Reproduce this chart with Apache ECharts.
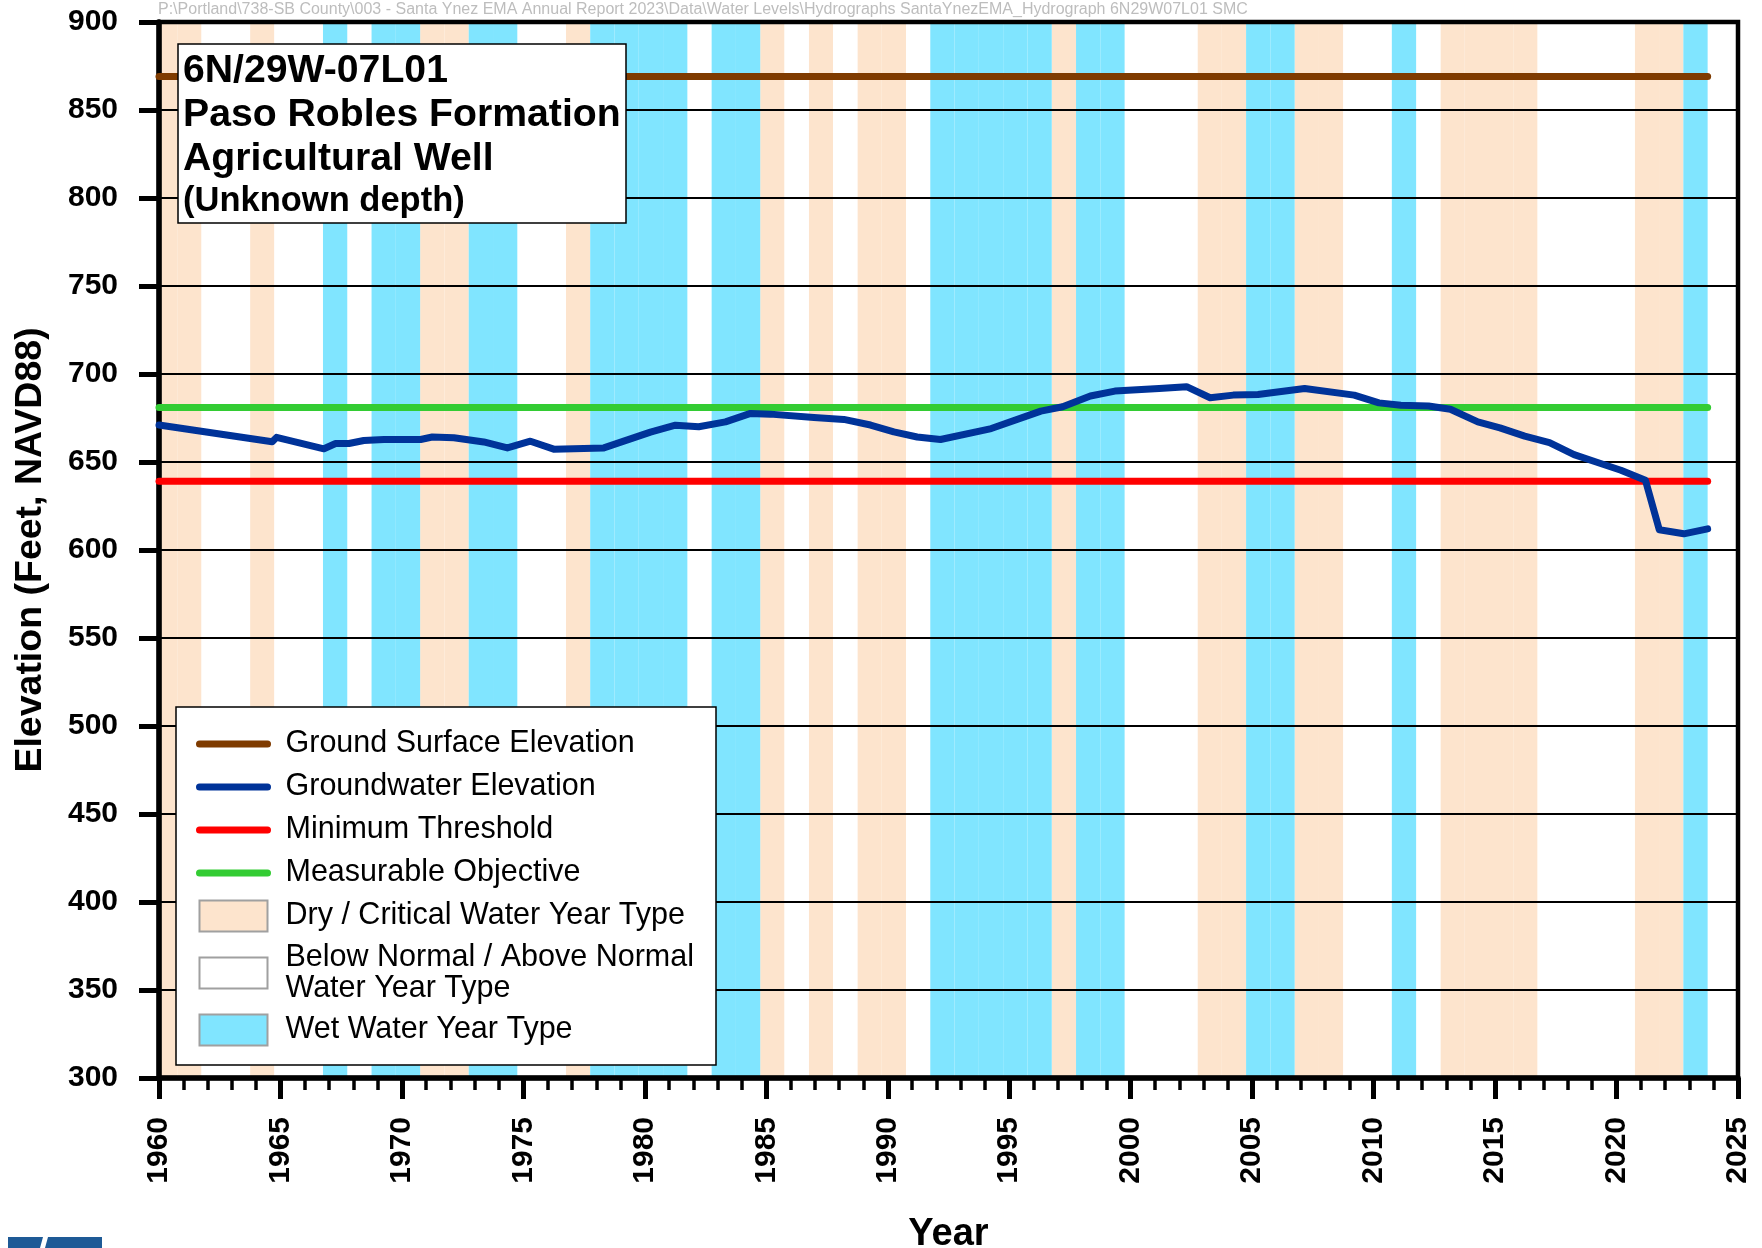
<!DOCTYPE html>
<html>
<head>
<meta charset="utf-8">
<title>Hydrograph 6N/29W-07L01</title>
<script src="https://cdn.jsdelivr.net/npm/echarts@6/dist/echarts.min.js"></script>
<style>
  html, body { margin: 0; padding: 0; background: #ffffff; }
  #chart { width: 1762px; height: 1248px; }
</style>
</head>
<body>
<div id="chart"></div>
<script>
// ---- Water year classification (water year N runs Oct N-1 .. Sep N) ----
const dryWaterYears = [1960, 1961, 1964, 1971, 1972, 1977, 1985, 1987, 1989, 1990, 1997,
  2003, 2004, 2007, 2008, 2013, 2014, 2015, 2016, 2021, 2022];
const normalWaterYears = [1962, 1963, 1965, 1966, 1968, 1975, 1976, 1982, 1986, 1988, 1991,
  2000, 2001, 2002, 2009, 2010, 2012, 2017, 2018, 2019, 2020];
const wetWaterYears = [1967, 1969, 1970, 1973, 1974, 1978, 1979, 1980, 1981, 1983, 1984,
  1992, 1993, 1994, 1995, 1996, 1998, 1999, 2005, 2006, 2011, 2023];

// ---- Groundwater elevation record (decimal year, feet NAVD88) ----
const gwYears = [1960.0, 1964.66, 1964.84, 1966.79, 1967.27, 1967.82, 1968.43, 1969.26, 1970.77,
  1971.25, 1972.14, 1973.37, 1974.34, 1975.29, 1976.25, 1978.31, 1980.23, 1981.26, 1982.22,
  1983.32, 1984.35, 1985.17, 1986.96, 1988.19, 1989.29, 1990.25, 1991.21, 1992.17, 1994.26,
  1996.3, 1997.2, 1998.34, 1999.35, 2001.17, 2002.3, 2003.27, 2004.22, 2005.24, 2007.16,
  2009.2, 2010.22, 2011.12, 2012.26, 2013.16, 2014.29, 2015.2, 2016.22, 2017.24, 2018.25,
  2019.16, 2020.18, 2021.19, 2021.76, 2022.77, 2023.75];
const gwElev = [671, 661.5, 664, 657.5, 660.5, 660.5, 662.2, 662.8, 662.8,
  664.2, 663.8, 661.4, 658, 661.8, 657.3, 658, 667, 670.9, 670,
  672.8, 677.6, 677.2, 675.3, 674.2, 671, 667.1, 664.2, 662.8, 669,
  678.9, 681.4, 687.5, 690.3, 691.8, 692.8, 686.5, 688, 688.4, 691.8,
  688, 683.6, 682.3, 681.8, 680, 672.8, 669.4, 664.7, 661, 654.2,
  650, 645.3, 639.6, 611.5, 609.2, 612];

// ---- Reference levels ----
const referenceSpan = [1960, 2023.75];
const groundSurfaceElev = 869;
const measurableObjective = 681;
const minimumThreshold = 639;

// ---- Axes ----
const X_MIN = 1960, X_MAX = 2025, X_STEP = 5;
const Y_MIN = 300, Y_MAX = 900, Y_STEP = 50;

const FONT = '"Liberation Sans", Arial, Helvetica, sans-serif';
const DRY_COLOR = '#FDE4CD';
const WET_COLOR = '#80E5FF';
const NORMAL_COLOR = '#FFFFFF';

const NAME_GSE = 'Ground Surface Elevation';
const NAME_GW = 'Groundwater Elevation';
const NAME_MT = 'Minimum Threshold';
const NAME_MO = 'Measurable Objective';
const NAME_DRY = 'Dry / Critical Water Year Type';
const NAME_BN = 'Below Normal / Above Normal\nWater Year Type';
const NAME_WET = 'Wet Water Year Type';

function waterYearSpans(years) {
  return years.map(y => [Math.max(X_MIN, y - 0.25), Math.min(X_MAX, y + 0.75)]);
}

function bandSeries(name, years, color) {
  return {
    type: 'custom',
    name: name,
    z: 1,
    silent: true,
    itemStyle: { color: color },
    encode: { x: [0, 1] },
    data: waterYearSpans(years),
    renderItem: function (params, api) {
      const p0 = api.coord([api.value(0), Y_MAX]);
      const p1 = api.coord([api.value(1), Y_MIN]);
      return {
        type: 'rect',
        shape: { x: p0[0], y: p0[1], width: p1[0] - p0[0], height: p1[1] - p0[1] },
        style: { fill: color }
      };
    }
  };
}

function levelSeries(name, value, color) {
  return {
    type: 'line',
    name: name,
    z: 3,
    symbol: 'none',
    silent: true,
    lineStyle: { color: color, width: 7, cap: 'round' },
    itemStyle: { color: color },
    data: referenceSpan.map(x => [x, value])
  };
}

// line entries in the legend show only the stroke, no marker
const lineLegendItem = name => ({ name: name, itemStyle: { opacity: 0 } });
const boxLegendItem = (name, extra) => Object.assign({
  name: name, icon: 'rect', itemStyle: { borderColor: '#A0A0A0', borderWidth: 2 }
}, extra || {});

const chart = echarts.init(document.getElementById('chart'), null, { renderer: 'canvas' });

chart.setOption({
  backgroundColor: '#ffffff',
  animation: false,
  textStyle: { fontFamily: FONT },
  grid: {
    left: 159, right: 24, top: 22, bottom: 170,
    containLabel: false,
    outerBoundsMode: 'none',
    show: true, z: 2,
    borderColor: '#000', borderWidth: 4.5,
    backgroundColor: 'transparent'
  },
  title: {
    left: 178, top: 44,
    text: '6N/29W-07L01\nPaso Robles Formation\nAgricultural Well',
    subtext: '(Unknown depth)',
    itemGap: 0,
    padding: [5, 6, 2, 5],
    backgroundColor: '#fff',
    borderColor: '#000',
    borderWidth: 1.5,
    textStyle: { fontFamily: FONT, fontSize: 39.2, fontWeight: 'bold', color: '#000', lineHeight: 44 },
    subtextStyle: { fontFamily: FONT, fontSize: 34.5, fontWeight: 'bold', color: '#000', lineHeight: 40 }
  },
  legend: {
    orient: 'vertical',
    left: 176, top: 707,
    padding: [20, 22, 18, 20],
    backgroundColor: '#fff',
    borderColor: '#000',
    borderWidth: 1.5,
    itemWidth: 68, itemHeight: 31, itemGap: 9,
    selectedMode: false,
    lineStyle: { width: 7, cap: 'round' },
    textStyle: { fontFamily: FONT, fontSize: 30.5, color: '#000', lineHeight: 34, padding: [0, 0, 0, 13] },
    data: [
      lineLegendItem(NAME_GSE),
      lineLegendItem(NAME_GW),
      lineLegendItem(NAME_MT),
      lineLegendItem(NAME_MO),
      boxLegendItem(NAME_DRY),
      boxLegendItem(NAME_BN, { textStyle: { lineHeight: 31 } }),
      boxLegendItem(NAME_WET)
    ]
  },
  xAxis: {
    type: 'value',
    min: X_MIN, max: X_MAX, interval: X_STEP,
    z: 2,
    name: 'Year',
    nameLocation: 'middle',
    nameGap: 138,
    nameTextStyle: { fontFamily: FONT, fontSize: 38, fontWeight: 'bold', color: '#000' },
    axisLine: { onZero: false, lineStyle: { color: '#000', width: 5.5 } },
    axisTick: { show: true, inside: false, length: 21, lineStyle: { color: '#000', width: 5 } },
    minorTick: { show: true, splitNumber: 5, length: 12, lineStyle: { color: '#000', width: 3.5 } },
    splitLine: { show: false },
    axisLabel: {
      rotate: 90, margin: 39,
      fontFamily: FONT, fontSize: 30, fontWeight: 'bold', color: '#000',
      formatter: v => String(v)
    }
  },
  yAxis: {
    type: 'value',
    min: Y_MIN, max: Y_MAX, interval: Y_STEP,
    z: 2,
    name: 'Elevation (Feet, NAVD88)',
    nameLocation: 'middle',
    nameGap: 109,
    nameTextStyle: { fontFamily: FONT, fontSize: 37.5, fontWeight: 'bold', color: '#000' },
    axisLine: { onZero: false, lineStyle: { color: '#000', width: 5.5 } },
    axisTick: { show: true, inside: false, length: 20, lineStyle: { color: '#000', width: 5 } },
    splitLine: { show: true, lineStyle: { color: '#000', width: 2 } },
    axisLabel: {
      margin: 41,
      fontFamily: FONT, fontSize: 30, fontWeight: 'bold', color: '#000'
    }
  },
  graphic: [
    {
      type: 'text', left: 158, top: 2, silent: true,
      style: {
        text: 'P:\\Portland\\738-SB County\\003 - Santa Ynez EMA Annual Report 2023\\Data\\Water Levels\\Hydrographs SantaYnezEMA_Hydrograph 6N29W07L01 SMC',
        fontFamily: FONT, fontSize: 16, fill: '#BDBDBD'
      }
    },
    {
      type: 'polygon', silent: true,
      shape: { points: [[8, 1237], [43, 1237], [40, 1248], [8, 1248]] },
      style: { fill: '#1E5A96' }
    },
    {
      type: 'polygon', silent: true,
      shape: { points: [[48, 1237], [102, 1237], [102, 1248], [45, 1248]] },
      style: { fill: '#1E5A96' }
    }
  ],
  series: [
    bandSeries(NAME_DRY, dryWaterYears, DRY_COLOR),
    bandSeries(NAME_BN, normalWaterYears, NORMAL_COLOR),
    bandSeries(NAME_WET, wetWaterYears, WET_COLOR),
    levelSeries(NAME_GSE, groundSurfaceElev, '#7F3B00'),
    levelSeries(NAME_MT, minimumThreshold, '#FF0000'),
    levelSeries(NAME_MO, measurableObjective, '#33CC33'),
    {
      type: 'line',
      name: NAME_GW,
      z: 4,
      symbol: 'none',
      silent: true,
      lineStyle: { color: '#003399', width: 7, cap: 'round', join: 'round' },
      itemStyle: { color: '#003399' },
      data: gwYears.map((x, i) => [x, gwElev[i]])
    }
  ]
});
</script>
</body>
</html>
